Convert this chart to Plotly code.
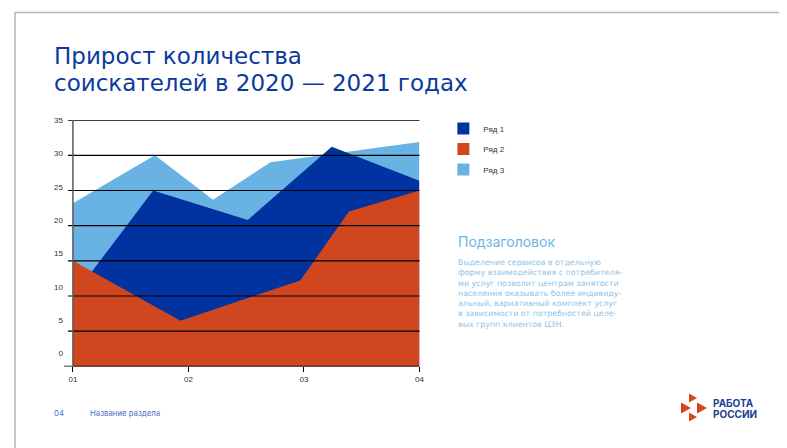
import plotly.graph_objects as go

# ---- data ----
categories = ["01", "02", "03", "04"]
cat_pos = [0, 1, 2, 3]
y_ticks = [0, 5, 10, 15, 20, 25, 30, 35]

series_names = ["Ряд 1", "Ряд 2", "Ряд 3"]
x_r1 = [0, 0.695, 1.514, 2.241, 3]
v_r1 = [9.9, 25.0, 20.8, 31.2, 26.4]
x_r2 = [0, 0.931, 1.968, 2.39, 3]
v_r2 = [15.0, 6.5, 12.2, 22.0, 25.0]
x_r3 = [0, 0.71, 1.213, 1.71, 3]
v_r3 = [23.2, 30.0, 23.7, 29.0, 31.9]

title_lines = ["Прирост количества", "соискателей в 2020 — 2021 годах"]
subtitle = "Подзаголовок"
body_lines = [
    "Выделение сервисов в отдельную",
    "форму взаимодействия с потребителя-",
    "ми услуг позволит центрам занятости",
    "населения оказывать более индивиду-",
    "альный, вариативный комплект услуг",
    "в зависимости от потребностей целе-",
    "вых групп клиентов ЦЗН.",
]
footer_num = "04"
footer_text = "Название раздела"
logo_lines = ["РАБОТА", "РОССИИ"]

C1, C2, C3 = "#0033A0", "#D0461F", "#69B2E4"
W, H = 787, 448
OFF, SC = 12.0, 0.99  # compensation for page offset in the rendered screenshot


def px(x):
    return max(0.0, ((x - OFF) / SC) / W)


def py(y):
    return min(1.0, 1 - ((y - OFF) / SC) / H)


fig = go.Figure()
# back to front: Ряд 3, Ряд 1, Ряд 2
fig.add_trace(go.Scatter(x=x_r3, y=v_r3, fill="tozeroy", mode="lines", line=dict(width=0),
                         fillcolor=C3, showlegend=False, hoverinfo="skip"))
fig.add_trace(go.Scatter(x=x_r1, y=v_r1, fill="tozeroy", mode="lines", line=dict(width=0),
                         fillcolor=C1, showlegend=False, hoverinfo="skip"))
fig.add_trace(go.Scatter(x=x_r2, y=v_r2, fill="tozeroy", mode="lines", line=dict(width=0),
                         fillcolor=C2, showlegend=False, hoverinfo="skip"))
# legend entries (square swatches)
for name, col in zip(series_names, [C1, C2, C3]):
    fig.add_trace(go.Bar(x=[None], y=[None], name=name, marker=dict(color=col, line=dict(width=0)),
                         legendgroup=name))
# invisible trace to carry label axis
fig.add_trace(go.Scatter(x=[None], y=[None], yaxis="y2", showlegend=False))

shapes = []
# gridlines over the areas
for t in y_ticks[1:]:
    shapes.append(dict(type="line", xref="paper", yref="y", x0=px(68), x1=px(420), y0=t, y1=t,
                       line=dict(color="black", width=1.2), layer="above"))
# bottom axis line
shapes.append(dict(type="line", xref="paper", yref="y", x0=px(64), x1=px(420), y0=0, y1=0,
                   line=dict(color="black", width=1.5), layer="above"))
# y axis line
shapes.append(dict(type="line", xref="paper", yref="paper", x0=px(73), x1=px(73), y0=py(366), y1=py(120),
                   line=dict(color="#5a5a5a", width=1.5), layer="above"))
# page frame
shapes.append(dict(type="line", xref="paper", yref="paper", x0=px(15), x1=1, y0=0.999, y1=0.999,
                   line=dict(color="#b4b4b4", width=1.5)))
shapes.append(dict(type="line", xref="paper", yref="paper", x0=px(15), x1=px(15), y0=1, y1=0,
                   line=dict(color="#b4b4b4", width=1.5)))
# logo triangles
tris = [
    [(690, 393), (690, 402), (698, 397.5)],
    [(682, 402), (682, 413), (692, 407.5)],
    [(698, 402), (698, 413), (708, 407.5)],
    [(690, 412), (690, 421), (698, 416.5)],
]
for tri in tris:
    path = "M " + " L ".join(f"{px(a):.5f},{py(b):.5f}" for a, b in tri) + " Z"
    shapes.append(dict(type="path", xref="paper", yref="paper", path=path,
                       fillcolor="#D9461E", line=dict(width=0)))

annotations = []
TF = "Inter"
TTF = "DejaVu Sans"
annotations.append(dict(text=title_lines[0], x=px(52), y=py(55.5), xref="paper", yref="paper",
                        xanchor="left", yanchor="middle", showarrow=False,
                        font=dict(family=TTF, size=23, color="#0B3A9E")))
annotations.append(dict(text=title_lines[1], x=px(52), y=py(82.5), xref="paper", yref="paper",
                        xanchor="left", yanchor="middle", showarrow=False,
                        font=dict(family=TTF, size=23, color="#0B3A9E")))
annotations.append(dict(text=subtitle, x=px(457), y=py(241), xref="paper", yref="paper",
                        xanchor="left", yanchor="middle", showarrow=False,
                        font=dict(family=TF, size=14, color="#6CB4E4")))
annotations.append(dict(text="<br>".join(body_lines), x=px(457), y=py(256), xref="paper", yref="paper",
                        xanchor="left", yanchor="top", align="left", showarrow=False,
                        font=dict(family="DejaVu Sans", size=7.9, color="#8CC3EA")))
annotations.append(dict(text=footer_num, x=px(52), y=py(413), xref="paper", yref="paper",
                        xanchor="left", yanchor="middle", showarrow=False,
                        font=dict(family=TF, size=7.8, color="#4A72C8")))
annotations.append(dict(text=footer_text, x=px(88), y=py(413), xref="paper", yref="paper",
                        xanchor="left", yanchor="middle", showarrow=False,
                        font=dict(family=TF, size=7.8, color="#4A72C8")))
annotations.append(dict(text=logo_lines[0], x=px(712), y=py(403), xref="paper", yref="paper",
                        xanchor="left", yanchor="middle", showarrow=False,
                        font=dict(family=TF, size=10, color="#1C3F94", weight="bold")))
annotations.append(dict(text=logo_lines[1], x=px(712), y=py(414), xref="paper", yref="paper",
                        xanchor="left", yanchor="middle", showarrow=False,
                        font=dict(family=TF, size=10, color="#1C3F94", weight="bold")))

TICKF = dict(family="Liberation Sans, Arial", size=8, color="#333333")
fig.update_layout(
    width=W, height=H,
    margin=dict(l=0, r=0, t=0, b=0),
    paper_bgcolor="white", plot_bgcolor="white",
    showlegend=True,
    legend=dict(x=px(444), y=py(114), xanchor="left", yanchor="top", font=TICKF,
                traceorder="grouped", tracegroupgap=1.5, bgcolor="rgba(0,0,0,0)"),
    xaxis=dict(domain=[px(73), px(420)], range=[0, 3], tickvals=cat_pos, ticktext=categories,
               showgrid=False, zeroline=False, showline=False, ticks="outside", ticklen=5,
               tickcolor="black", tickwidth=1, tickfont=TICKF, fixedrange=True),
    yaxis=dict(domain=[py(366), py(120)], range=[0, 35], tickvals=y_ticks, showticklabels=False,
               showgrid=False, zeroline=False, showline=False, ticks="", fixedrange=True),
    yaxis2=dict(overlaying="y", side="left", anchor="x", range=[-1.95, 35], tickvals=y_ticks,
                showgrid=False, zeroline=False, showline=False, ticks="", tickfont=TICKF,
                ticklabelstandoff=9, fixedrange=True),
    shapes=shapes,
    annotations=annotations,
    bargap=0.5,
)

fig.write_html("out.html")
